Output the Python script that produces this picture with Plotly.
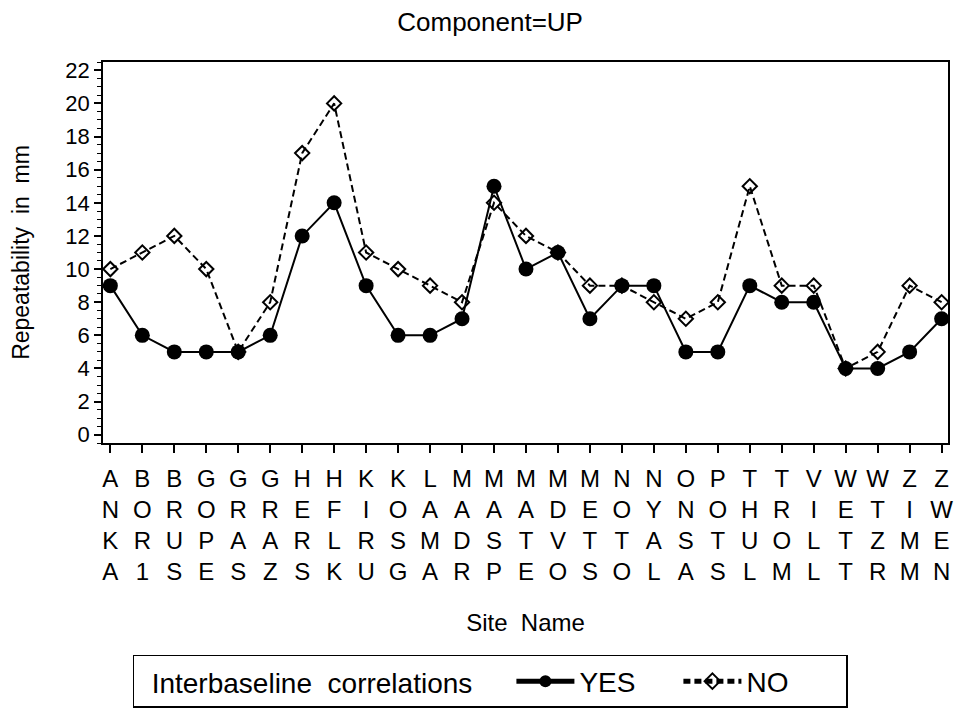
import plotly.graph_objects as go

# Site identifiers along the x axis
sites = ["ANKA", "BOR1", "BRUS", "GOPE", "GRAS", "GRAZ", "HERS", "HFLK", "KIRU",
         "KOSG", "LAMA", "MADR", "MASP", "MATE", "MDVO", "METS", "NOTO", "NYAL",
         "ONSA", "POTS", "THUL", "TROM", "VILL", "WETT", "WTZR", "ZIMM", "ZWEN"]

# Repeatability (mm), UP component, with and without interbaseline correlations
rep_yes = [9, 6, 5, 5, 5, 6, 12, 14, 9, 6, 6, 7, 15, 10, 11, 7, 9, 9, 5, 5, 9, 8, 8, 4, 4, 5, 7]
rep_no = [10, 11, 12, 10, 5, 8, 17, 20, 11, 10, 9, 8, 14, 12, 11, 9, 9, 8, 7, 8, 15, 9, 9, 4, 5, 9, 8]

y_ticks = list(range(0, 23, 2))

# Site names are printed vertically, one letter per line
site_labels = ["<br>".join(s) for s in sites]

FONT = "Liberation Sans, Arial, Helvetica, sans-serif"
SP = "\u00a0 "  # wide word gap
NB = "\u00a0"

fig = go.Figure()
fig.add_trace(go.Scatter(
    x=sites, y=rep_yes, name="YES", mode="lines+markers",
    line=dict(color="black", width=2),
    marker=dict(symbol="circle", size=15, color="black"),
))
fig.add_trace(go.Scatter(
    x=sites, y=rep_no, name="NO", mode="lines+markers",
    line=dict(color="black", width=2, dash="7px,4px"),
    marker=dict(symbol="diamond-open", size=11, color="black",
                line=dict(color="black", width=2)),
))

fig.update_layout(
    width=961, height=709,
    margin=dict(l=103, r=8, t=62, b=266),
    paper_bgcolor="white", plot_bgcolor="white",
    font=dict(family=FONT, color="black", size=21),
    title=dict(text="Component=UP", x=0.51, xref="container", xanchor="center",
               y=1 - 22 / 709, yref="container", yanchor="middle",
               font=dict(size=26)),
    showlegend=True,
    legend=dict(
        orientation="h",
        xref="container", x=0.51, xanchor="center",
        yref="container", y=0.0015, yanchor="bottom",
        bordercolor="black", borderwidth=1.5, bgcolor="white",
        font=dict(size=28),
        title=dict(text=NB * 2 + "Interbaseline" + SP + "correlations" + NB * 4,
                   side="left", font=dict(size=28)),
        itemwidth=58,
        entrywidth=94, entrywidthmode="pixels",
        itemsizing="constant",
    ),
)

fig.update_xaxes(
    type="category", range=[-0.23, 26.2],
    tickvals=sites, ticktext=site_labels,
    showline=True, linecolor="black", linewidth=1.5, mirror=True,
    ticks="outside", ticklen=8, tickwidth=1.5, tickcolor="black",
    tickfont=dict(size=24), tickangle=0, ticklabelstandoff=5,
    showgrid=False, zeroline=False,
    title=dict(text="Site" + SP + "Name", font=dict(size=24), standoff=30),
)
fig.update_yaxes(
    range=[-0.5, 22.5], tickvals=y_ticks,
    showline=True, linecolor="black", linewidth=1.5, mirror=True,
    ticks="outside", ticklen=7, tickwidth=1.5, tickcolor="black",
    tickfont=dict(size=22),
    minor=dict(dtick=0.5, ticks="outside", ticklen=4, tickwidth=1.2, tickcolor="black",
               showgrid=False),
    showgrid=False, zeroline=False,
    title=dict(text="Repeatability" + SP + "in" + SP + "mm", font=dict(size=23), standoff=29),
)

fig.write_html("out.html")
